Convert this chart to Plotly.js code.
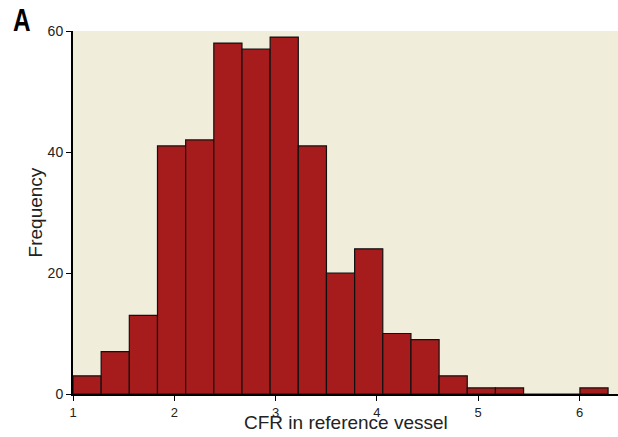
<!DOCTYPE html>
<html>
<head>
<meta charset="utf-8">
<script src="https://cdn.plot.ly/plotly-3.0.1.min.js"></script>
<style>html,body{margin:0;padding:0;background:#fff;}</style>
</head>
<body>
<div id="chart" style="width:618px;height:437px;"></div>
<script>
// Histogram of CFR in reference vessel
const binStart = 1.0;
const binWidth = 0.278;
const counts = [3, 7, 13, 41, 42, 58, 57, 59, 41, 20, 24, 10, 9, 3, 1, 1, 0, 0, 1];
const xTickVals = [1, 2, 3, 4, 5, 6];
const yTickVals = [0, 20, 40, 60];

const centers = counts.map((c, i) => binStart + binWidth * (i + 0.5));

const trace = {
  type: 'bar',
  x: centers,
  y: counts,
  width: counts.map(() => binWidth),
  marker: { color: '#A61B1B', line: { color: '#111111', width: 1.2 } },
  hoverinfo: 'x+y'
};

const tickFont = { family: '"Liberation Sans", Arial, sans-serif', size: 13, color: '#222' };
const titleFont = { family: '"Liberation Sans", Arial, sans-serif', size: 19, color: '#222' };

const layout = {
  width: 618,
  height: 437,
  margin: { l: 73, r: 0, t: 31, b: 43 },
  paper_bgcolor: '#ffffff',
  plot_bgcolor: '#F0EDDB',
  showlegend: false,
  bargap: 0,
  xaxis: {
    range: [1, 6.38],
    tickvals: xTickVals,
    ticktext: xTickVals.map(String),
    ticks: 'outside', ticklen: 5, tickwidth: 1, tickcolor: '#000',
    showline: true, linecolor: '#000', linewidth: 2,
    showgrid: false, zeroline: false,
    tickfont: tickFont
  },
  yaxis: {
    range: [0, 60],
    tickvals: yTickVals,
    ticktext: yTickVals.map(String),
    ticks: 'outside', ticklen: 5, tickwidth: 1, tickcolor: '#000',
    showline: true, linecolor: '#000', linewidth: 2,
    showgrid: false, zeroline: false,
    tickfont: { family: '"Liberation Sans", Arial, sans-serif', size: 14, color: '#222' }
  },
  annotations: [
    {
      text: 'CFR in reference vessel', xref: 'paper', yref: 'paper',
      x: 0.5, y: -0.112, xanchor: 'center', yanchor: 'bottom',
      showarrow: false, font: titleFont
    },
    {
      text: 'Frequency', xref: 'paper', yref: 'paper',
      x: -0.068, y: 0.5, xanchor: 'center', yanchor: 'middle', textangle: -90,
      showarrow: false, font: titleFont
    },
    {
      text: '<b>A</b>', xref: 'paper', yref: 'paper',
      x: -0.114, y: 1.085, xanchor: 'left', yanchor: 'top', showarrow: false,
      font: { family: '"Liberation Sans", Arial, sans-serif', size: 32, color: '#000' }
    }
  ]
};

Plotly.newPlot('chart', [trace], layout, { displayModeBar: false, staticPlot: true }).then(function (gd) {
  // condense the panel letter horizontally, like the original's narrow bold face
  gd.querySelectorAll('.annotation-text').forEach(function (t) {
    if (t.textContent.trim() === 'A') {
      t.style.transformBox = 'fill-box';
      t.style.transformOrigin = 'left center';
      t.style.transform = 'scaleX(0.76)';
    }
  });
});
</script>
</body>
</html>
